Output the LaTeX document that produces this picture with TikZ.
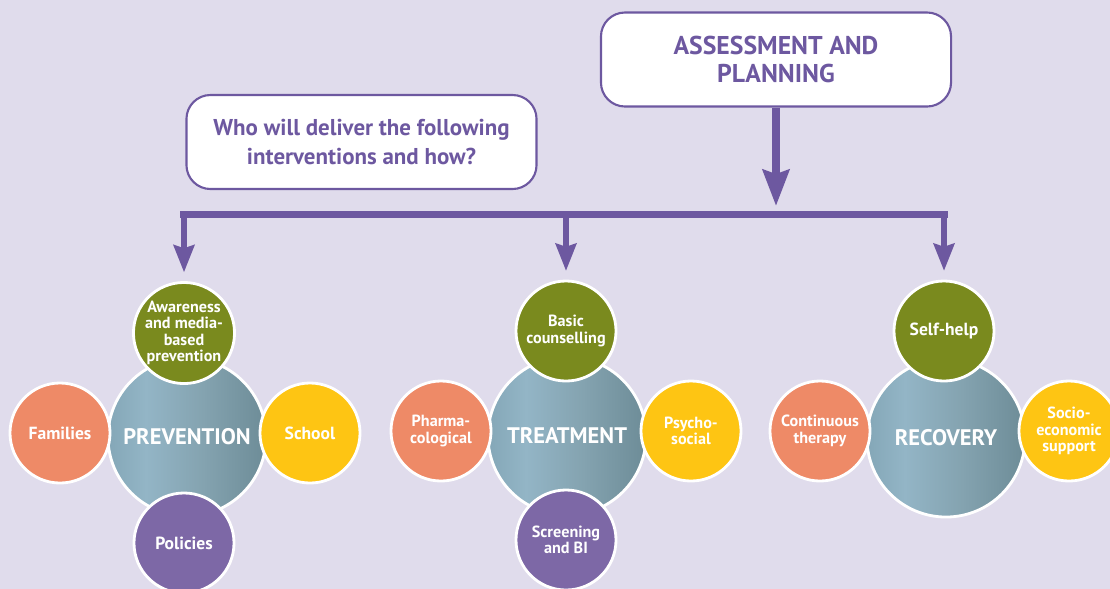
\documentclass[tikz,border=0pt]{standalone}
\usepackage{fontspec}
\setmainfont{PT Sans}
\usetikzlibrary{shapes.geometric, arrows.meta, positioning, calc}

\definecolor{backdrop}{HTML}{E0DCEC}
\definecolor{ink}{HTML}{6D58A0}
\definecolor{olive}{HTML}{7A8A1E}
\definecolor{salmon}{HTML}{EE8A67}
\definecolor{sun}{HTML}{FEC513}
\definecolor{plum}{HTML}{7D68A6}
\definecolor{hubedge}{HTML}{84A7B7}
\definecolor{hublight}{HTML}{93B5C6}
\definecolor{hubmid}{HTML}{84A3B0}
\definecolor{hubdark}{HTML}{6D8C97}
\pgfdeclarehorizontalshading{hubfade}{100bp}{color(0bp)=(hubedge); color(25bp)=(hubedge); color(37bp)=(hublight); color(55bp)=(hubmid); color(75bp)=(hubdark); color(100bp)=(hubdark)}

\begin{document}
\begin{tikzpicture}[x=0.025cm, y=-0.025cm,
    box/.style={rectangle, rounded corners=0.6cm, draw=ink, line width=1.5pt, fill=white, text=ink, align=center, minimum width=8.75cm, minimum height=2.35cm},
    hub/.style={circle, draw=white, line width=2pt, shading=hubfade, text=white, font=\bfseries\fontsize{16}{18}\selectfont, minimum size=3.95cm},
    spoke/.style={circle, draw=white, line width=2pt, text=white, font=\bfseries\fontsize{11.5}{11.8}\selectfont, align=center, minimum size=2.5cm, inner sep=0pt},
    single/.style={font=\bfseries\fontsize{12.5}{13}\selectfont},
    trunk/.style={draw=ink, line width=5.7pt, -{Stealth[length=0.9cm, width=0.65cm, inset=0.1cm]}, shorten >=0.21cm},
    rail/.style={draw=ink, line width=5pt, line cap=rect},
    branch/.style={draw=ink, line width=3.6pt, -{Stealth[length=0.68cm, width=0.52cm, inset=0.08cm]}, shorten >=0.22cm}
]
\useasboundingbox (0,0) rectangle (1110,588);
\clip (-4,-4) rectangle (1114,592);
\fill[backdrop] (-4,-4) rectangle (1114,592);

\node[box, font=\bfseries\fontsize{18.3}{20.6}\selectfont] (assess) at (776,59.5) {ASSESSMENT AND\\PLANNING};
\node[box, font=\bfseries\fontsize{16.3}{20}\selectfont] (who) at (361.5,142) {Who will deliver the following\\interventions and how?};

\node[hub] (prev) at (187,437) {PREVENTION};
\node[spoke, fill=olive] (prevtop) at (184,333) {Awareness\\and media-\\based\\prevention};
\node[spoke, single, fill=salmon] (prevleft) at (60,433) {Families};
\node[spoke, single, fill=sun] (prevright) at (310,433) {School};
\node[spoke, single, fill=plum] (prevbot) at (184,543) {Policies};

\node[hub] (treat) at (567,436) {TREATMENT};
\node[spoke, fill=olive] (treattop) at (566,331) {Basic\\counselling};
\node[spoke, fill=salmon] (treatleft) at (441,431) {Pharma-\\cological};
\node[spoke, fill=sun] (treatright) at (691,431) {Psycho-\\social};
\node[spoke, fill=plum] (treatbot) at (566,540) {Screening\\and BI};

\node[hub] (recov) at (946,438) {RECOVERY};
\node[spoke, single, fill=olive] (recovtop) at (944,331) {Self-help};
\node[spoke, fill=salmon] (recovleft) at (820,431) {Continuous\\therapy};
\node[spoke, fill=sun] (recovright) at (1069,431) {Socio-\\economic\\support};

\coordinate (bar) at (778,214.5);
\draw[trunk] (assess.south) -- (assess.south |- bar);
\draw[rail] (prevtop.north |- bar) -- (recovtop.north |- bar);
\foreach \n in {prevtop, treattop, recovtop}
    \draw[branch] (\n.north |- bar) -- (\n.north);
\end{tikzpicture}
\end{document}
